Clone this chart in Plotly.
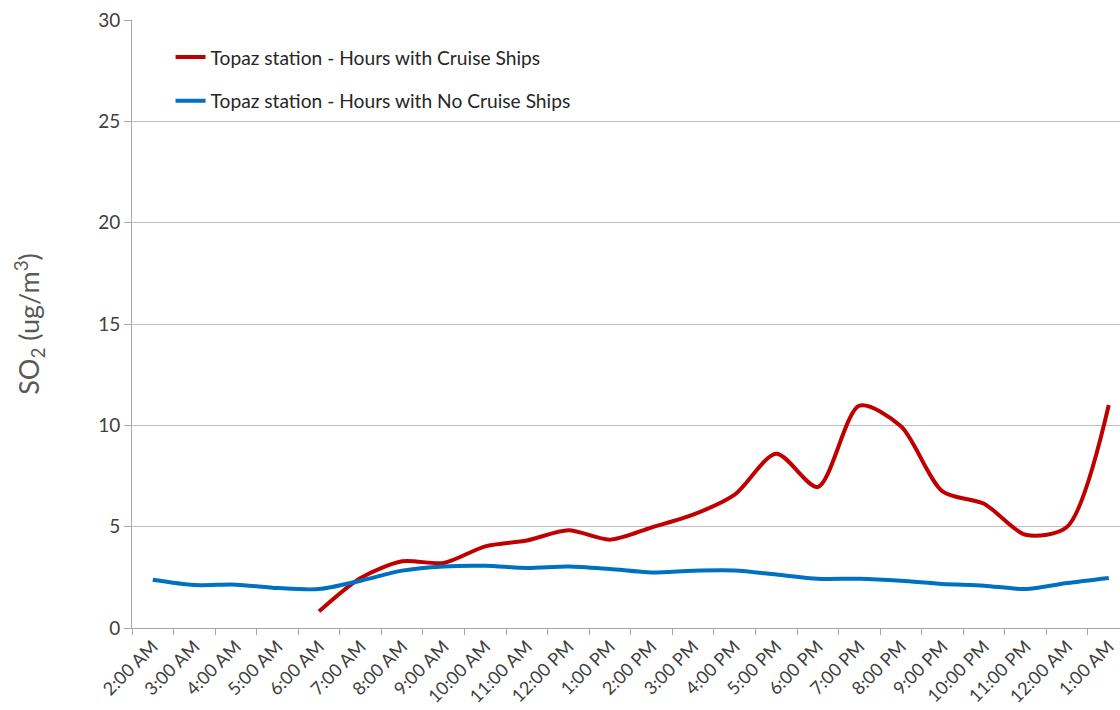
import plotly.graph_objects as go

# ── data ─────────────────────────────────────────────────────────────────────
hours = [
    "2:00 AM", "3:00 AM", "4:00 AM", "5:00 AM", "6:00 AM", "7:00 AM",
    "8:00 AM", "9:00 AM", "10:00 AM", "11:00 AM", "12:00 PM", "1:00 PM",
    "2:00 PM", "3:00 PM", "4:00 PM", "5:00 PM", "6:00 PM", "7:00 PM",
    "8:00 PM", "9:00 PM", "10:00 PM", "11:00 PM", "12:00 AM", "1:00 AM",
]

cruise = [
    None, None, None, None, 0.82, 2.47,
    3.29, 3.21, 4.03, 4.32, 4.82, 4.36,
    4.96, 5.59, 6.58, 8.6, 6.96, 10.97,
    9.95, 6.74, 6.13, 4.6, 5.0, 11.0,
]

no_cruise = [
    2.38, 2.12, 2.14, 1.97, 1.92, 2.33,
    2.83, 3.04, 3.07, 2.96, 3.04, 2.91,
    2.74, 2.83, 2.84, 2.64, 2.43, 2.43,
    2.33, 2.17, 2.09, 1.92, 2.22, 2.47,
]

y_ticks = [0, 5, 10, 15, 20, 25, 30]

# ── styling ──────────────────────────────────────────────────────────────────
RED   = "#C00000"
BLUE  = "#0070C0"
TEXT  = "#595959"
GRID  = "#BFBFBF"
AXIS  = "#A6A6A6"
FONT  = "Lato, 'Open Sans', sans-serif"

fig = go.Figure()

fig.add_trace(go.Scatter(
    x=hours, y=cruise,
    name="Topaz station - Hours with Cruise Ships",
    mode="lines",
    line=dict(color=RED, width=4, shape="spline", smoothing=0.8),
    legend="legend",
))

fig.add_trace(go.Scatter(
    x=hours, y=no_cruise,
    name="Topaz station - Hours with No Cruise Ships",
    mode="lines",
    line=dict(color=BLUE, width=4, shape="spline", smoothing=0.8),
    legend="legend2",
))

legend_style = dict(
    x=0.039, xanchor="left",
    yanchor="middle",
    bgcolor="rgba(0,0,0,0)",
    font=dict(size=19.2, color="#262626", family=FONT),
)

fig.update_layout(
    width=1120, height=710,
    plot_bgcolor="white",
    paper_bgcolor="white",
    font=dict(family=FONT, color=TEXT),
    margin=dict(l=132, r=0, t=20, b=82, autoexpand=False),
    legend=dict(y=0.939, **legend_style),
    legend2=dict(y=0.867, **legend_style),
    showlegend=True,
)

fig.update_xaxes(
    type="category",
    categoryorder="array",
    categoryarray=hours,
    range=[-0.5, 23.27],
    automargin=False,
    tickson="boundaries",
    ticks="outside",
    ticklen=6,
    tickcolor=AXIS,
    tickangle=-45,
    tickfont=dict(size=18, color="#404040"),
    showgrid=False,
    showline=True,
    linecolor=AXIS,
    linewidth=1,
    zeroline=False,
)

fig.update_yaxes(
    range=[0, 30],
    tickvals=y_ticks,
    automargin=False,
    ticks="outside",
    ticklen=7,
    tickcolor=AXIS,
    tickfont=dict(size=19, color="#404040"),
    showgrid=True,
    gridcolor=GRID,
    gridwidth=1,
    showline=True,
    linecolor=AXIS,
    linewidth=1,
    zeroline=False,
    title=dict(
        text="SO<sub>2</sub> (ug/m<sup>3</sup>)",
        font=dict(size=27, color=TEXT),
        standoff=50,
    ),
)

fig.write_html("out.html", config={"displayModeBar": False})

# drop the browser's default 8px body margin so the figure sits at 0,0
with open("out.html", encoding="utf-8") as f:
    html = f.read()
html = html.replace("<head>", "<head><style>body{margin:0;}</style>", 1)
with open("out.html", "w", encoding="utf-8") as f:
    f.write(html)
